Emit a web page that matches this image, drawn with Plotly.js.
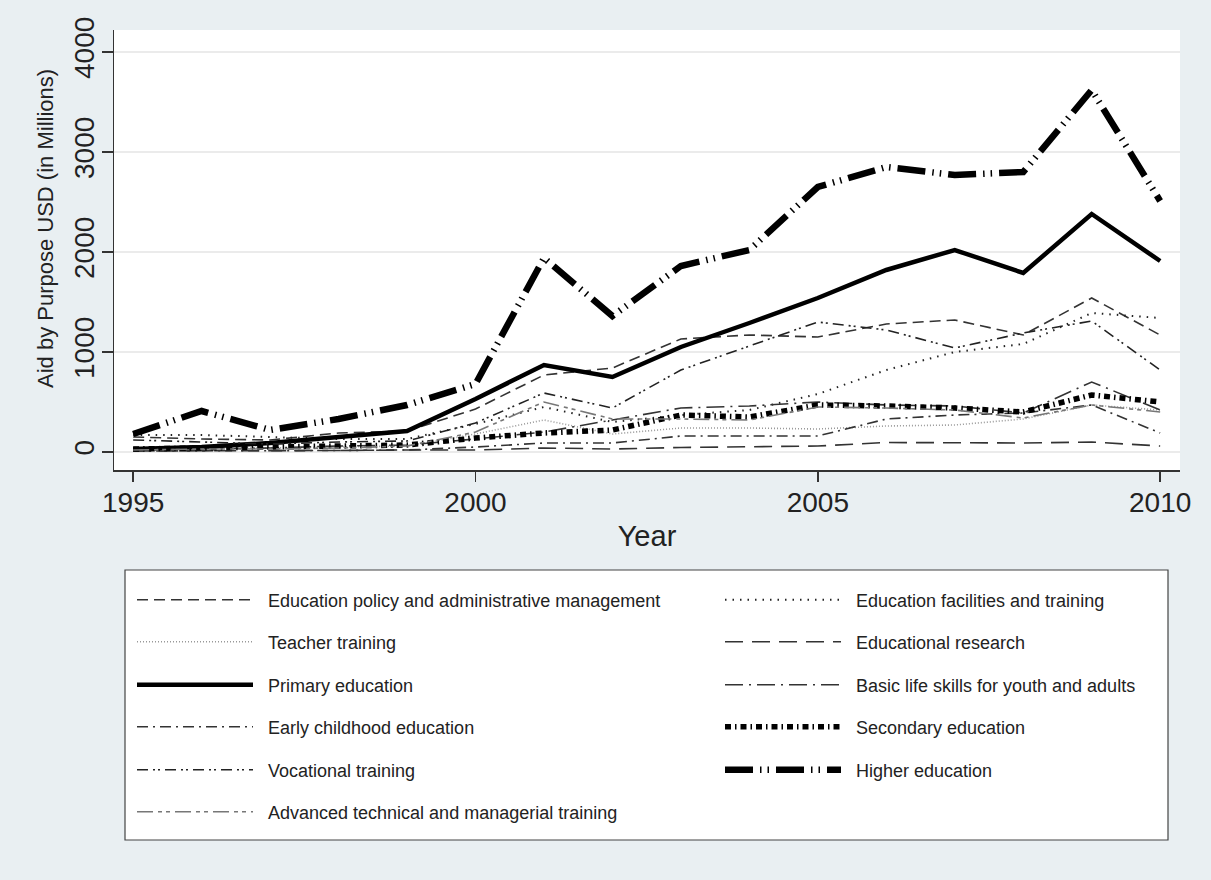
<!DOCTYPE html>
<html><head><meta charset="utf-8">
<script src="https://cdn.plot.ly/plotly-3.0.1.min.js"></script>
<style>html,body{margin:0;padding:0;background:#e9eff2;}</style>
</head><body><div id="chart" style="width:1211px;height:880px;"></div>
<script>
// ---- data ----
const years = [1995,1996,1997,1998,1999,2000,2001,2002,2003,2004,2005,2006,2007,2008,2009,2010];
const seriesNames = [
  "Education policy and administrative management",
  "Education facilities and training",
  "Teacher training",
  "Educational research",
  "Primary education",
  "Basic life skills for youth and adults",
  "Early childhood education",
  "Secondary education",
  "Vocational training",
  "Higher education",
  "Advanced technical and managerial training"
];
const policy     = [150,130,120,190,210,430,770,840,1130,1170,1150,1280,1320,1170,1540,1170];
const facilities = [170,170,150,130,130,280,450,300,370,420,580,820,1000,1080,1390,1340];
const teacher    = [30,40,40,50,60,180,320,180,240,240,230,260,270,330,470,420];
const research   = [10,10,10,15,20,20,40,30,45,55,60,95,95,90,100,60];
const primary    = [30,50,90,150,210,530,870,750,1050,1290,1540,1820,2020,1790,2380,1910];
const basic      = [20,30,40,60,70,130,200,320,440,460,500,470,460,390,700,420];
const early      = [10,10,10,15,20,50,90,90,160,160,160,330,370,390,470,190];
const secondary  = [30,40,50,60,70,140,190,220,370,350,470,460,440,400,570,500];
const vocational = [120,100,80,100,110,290,590,440,820,1060,1300,1220,1040,1190,1310,820];
const higher     = [180,410,220,330,470,680,1940,1360,1860,2020,2650,2850,2770,2800,3620,2510];
const advanced   = [20,30,30,40,60,200,500,330,330,320,450,440,420,340,470,400];
const xTicks = [1995,2000,2005,2010];
const yTicks = [0,1000,2000,3000,4000];
const yTitle = 'Aid by Purpose USD (in Millions)';
const xTitle = 'Year';

const values = [policy,facilities,teacher,research,primary,basic,early,secondary,vocational,higher,advanced];
const styles = [
  {color:'#333333', width:1.6, dash:'11px,6px'},
  {color:'#222222', width:2.0, dash:'1.5px,6px'},
  {color:'#999999', width:1.6, dash:'1px,2px'},
  {color:'#333333', width:1.6, dash:'18px,9px'},
  {color:'#000000', width:4.5, dash:'solid'},
  {color:'#333333', width:1.6, dash:'18px,6px,2px,6px'},
  {color:'#333333', width:1.6, dash:'11px,5px,2px,5px'},
  {color:'#000000', width:5.5, dash:'6px,4px,1.5px,4px'},
  {color:'#222222', width:1.6, dash:'11px,5px,2px,3px,2px,5px'},
  {color:'#000000', width:6.5, dash:'28px,7px,1.5px,6px,1.5px,7px'},
  {color:'#777777', width:1.6, dash:'16px,5px,4px,4px,4px,5px'}
];

// geometry helpers (pixel -> paper coords) for legend placement
const ML = 114, MT = 30, PW = 1066, PH = 440;
const px = p => (p - ML) / PW;
const py = p => (MT + PH - p) / PH;
const rows = [600, 642, 685, 727, 770, 812];
const cols = [132, 720];
const pad = '\u00a0\u00a0';

const traces = values.map((v, i) => ({
  type: 'scatter', mode: 'lines', x: years, y: v, name: pad + seriesNames[i],
  line: styles[i], legend: i === 0 ? 'legend' : 'legend' + (i + 1),
  hoverinfo: 'skip'
}));

const layout = {
  width: 1211, height: 880,
  paper_bgcolor: '#e9eff2', plot_bgcolor: '#ffffff',
  margin: {l: ML, r: 1211 - ML - PW, t: MT, b: 880 - MT - PH},
  font: {family: 'Liberation Sans, Arial, sans-serif', color: '#222'},
  showlegend: true,
  xaxis: {
    range: [1994.72, 2010.29], tickvals: xTicks, ticktext: xTicks.map(String),
    ticks: 'outside', ticklen: 10, tickwidth: 1.5, tickcolor: '#333',
    showline: true, linecolor: '#333', linewidth: 1.5, showgrid: false, zeroline: false,
    tickfont: {size: 28, color: '#222'}, ticklabelstandoff: -3,
    title: {text: xTitle, font: {size: 29, color: '#222'}, standoff: 8}
  },
  yaxis: {
    range: [-180, 4220], tickvals: yTicks, ticktext: yTicks.map(String),
    ticks: 'outside', ticklen: 11, tickwidth: 1.5, tickcolor: '#333', tickangle: -90,
    showline: true, linecolor: '#333', linewidth: 1.5,
    showgrid: true, gridcolor: '#ebebeb', gridwidth: 1.2, zeroline: false,
    tickfont: {size: 28, color: '#222'}, ticklabelstandoff: -4
  },
  annotations: [{
    text: yTitle, xref: 'paper', yref: 'paper', x: px(45), y: py(229),
    xanchor: 'center', yanchor: 'middle', textangle: -90, showarrow: false,
    font: {size: 22, color: '#222'}
  }],
  shapes: [{
    type: 'rect', xref: 'paper', yref: 'paper', layer: 'below',
    x0: px(125), x1: px(1168), y0: py(840), y1: py(570),
    line: {color: '#444', width: 1.2}, fillcolor: '#ffffff'
  }]
};
values.forEach((v, i) => {
  const key = i === 0 ? 'legend' : 'legend' + (i + 1);
  layout[key] = {
    x: px(cols[i % 2]), y: py(rows[Math.floor(i / 2)]),
    xanchor: 'left', yanchor: 'middle',
    bgcolor: 'rgba(0,0,0,0)', borderwidth: 0, itemwidth: 116,
    font: {size: 18, color: '#222'}, itemclick: false, itemdoubleclick: false
  };
});

Plotly.newPlot('chart', traces, layout, {displayModeBar: false, staticPlot: true});
</script></body></html>
